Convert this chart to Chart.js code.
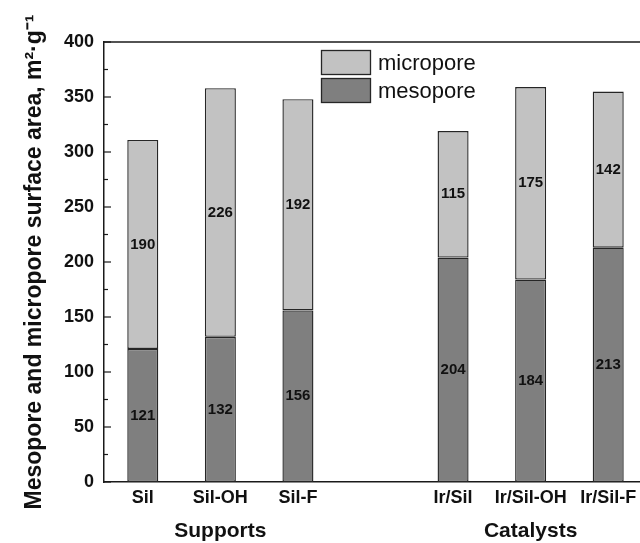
<!DOCTYPE html>
<html>
<head>
<meta charset="utf-8">
<script src="https://cdn.jsdelivr.net/npm/chart.js@4"></script>
<style>
html,body{margin:0;padding:0;background:#fff;overflow:hidden;}
#wrap{width:640px;height:543px;overflow:hidden;position:relative;}
canvas{display:block;}
</style>
</head>
<body>
<div id="wrap"><canvas id="c" width="660" height="543"></canvas></div>
<script>
const categories = ['Sil', 'Sil-OH', 'Sil-F', '', 'Ir/Sil', 'Ir/Sil-OH', 'Ir/Sil-F'];
const mesopore  = [121, 132, 156, null, 204, 184, 213];
const micropore = [190, 226, 192, null, 115, 175, 142];
const groupNames = ['Supports', 'Catalysts'];
const groupCenters = ['Sil-OH', 'Ir/Sil-OH'];
const yTitle = 'Mesopore and micropore surface area, m\u00B2\u00B7g\u207B\u00B9';
const seriesNames = ['mesopore', 'micropore'];

const FONT = '"Liberation Sans", Arial, sans-serif';
const LIGHT = '#c2c2c2', DARK = '#7f7f7f', EDGE = '#262626', AXIS = '#1a1a1a';

const extras = {
  id: 'extras',
  afterDraw(chart) {
    const ctx = chart.ctx;
    const a = chart.chartArea;
    const ys = chart.scales.y, xs = chart.scales.x;
    ctx.save();
    // top frame line
    ctx.strokeStyle = AXIS; ctx.lineWidth = 1.5;
    ctx.beginPath(); ctx.moveTo(a.left, a.top); ctx.lineTo(a.right, a.top); ctx.stroke();
    // inward ticks on y axis
    ctx.lineWidth = 1.2;
    const tv = ys.ticks.map(t => t.value);
    tv.forEach((v, i) => {
      const py = ys.getPixelForValue(v);
      ctx.beginPath(); ctx.moveTo(a.left, py); ctx.lineTo(a.left + 7, py); ctx.stroke();
      if (i < tv.length - 1) {
        const pm = ys.getPixelForValue((v + tv[i + 1]) / 2);
        ctx.beginPath(); ctx.moveTo(a.left, pm); ctx.lineTo(a.left + 4, pm); ctx.stroke();
      }
    });
    // value labels in bars
    ctx.fillStyle = '#111';
    ctx.font = 'bold 15px ' + FONT;
    ctx.textAlign = 'center'; ctx.textBaseline = 'middle';
    chart.data.datasets.forEach((ds, di) => {
      const meta = chart.getDatasetMeta(di);
      meta.data.forEach((el, i) => {
        const v = ds.data[i];
        if (v == null) return;
        ctx.fillText(String(v), el.x, (el.y + el.base) / 2);
      });
    });
    // group labels
    ctx.font = 'bold 21px ' + FONT;
    groupNames.forEach((g, i) => {
      const px = xs.getPixelForValue(categories.indexOf(groupCenters[i]));
      ctx.fillText(g, px, 531);
    });
    // legend (micropore on top)
    const lx = a.left + 217, ly = a.top + 8, bw = 50, bh = 25, gap = 3;
    const order = [1, 0];
    ctx.font = '22px ' + FONT;
    ctx.textAlign = 'left';
    order.forEach((di, k) => {
      const ds = chart.data.datasets[di];
      const y0 = ly + k * (bh + gap);
      ctx.fillStyle = ds.backgroundColor;
      ctx.fillRect(lx, y0, bw, bh);
      ctx.strokeStyle = EDGE; ctx.lineWidth = 1.3;
      ctx.strokeRect(lx + 0.5, y0 + 0.5, bw - 1, bh - 1);
      ctx.fillStyle = '#111';
      ctx.fillText(ds.label, lx + bw + 7, y0 + bh / 2 + 1);
    });
    ctx.restore();
  }
};

new Chart(document.getElementById('c'), {
  type: 'bar',
  data: {
    labels: categories,
    datasets: [
      { label: seriesNames[0], data: mesopore, backgroundColor: DARK, borderColor: EDGE, borderWidth: 1.4, borderSkipped: false, barPercentage: 0.4, categoryPercentage: 1 },
      { label: seriesNames[1], data: micropore, backgroundColor: LIGHT, borderColor: EDGE, borderWidth: 1.4, borderSkipped: false, barPercentage: 0.4, categoryPercentage: 1 }
    ]
  },
  options: {
    responsive: false,
    animation: false,
    devicePixelRatio: 1,
    layout: { padding: { top: 42, right: 13, left: 0, bottom: 0 } },
    plugins: { legend: { display: false }, tooltip: { enabled: false } },
    scales: {
      x: {
        stacked: true,
        grid: { display: false, drawTicks: false },
        border: { display: true, color: AXIS, width: 1.5 },
        ticks: { color: '#111', font: { family: FONT, size: 18, weight: 'bold' }, padding: 5, maxRotation: 0, autoSkip: false },
        afterFit(s) { s.height = 61; }
      },
      y: {
        stacked: true,
        min: 0, max: 400,
        grid: { display: false, drawTicks: false },
        border: { display: true, color: AXIS, width: 1.5 },
        ticks: { stepSize: 50, color: '#111', font: { family: FONT, size: 18, weight: 'bold' }, padding: 10 },
        title: { display: true, text: yTitle, color: '#111', font: { family: FONT, size: 23, weight: 'bold' }, padding: { top: 21, bottom: 0 } },
        afterFit(s) { s.width = 104; }
      }
    }
  },
  plugins: [extras]
});
</script>
</body>
</html>
